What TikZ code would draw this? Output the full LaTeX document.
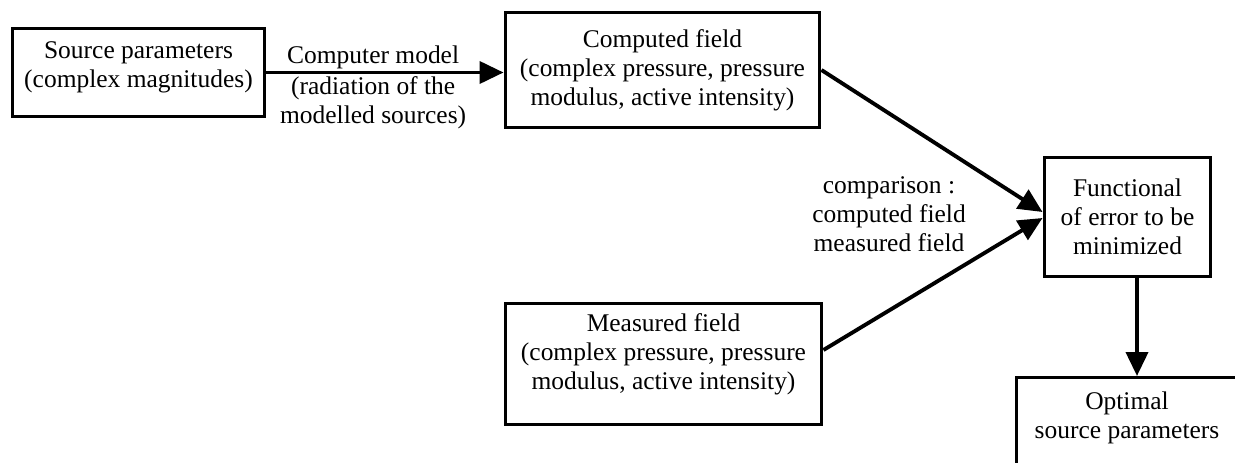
\documentclass[tikz,border=0pt]{standalone}
\usepackage{fontspec}
\setmainfont{Liberation Serif}
\usepackage{tikz}
\usetikzlibrary{arrows.meta}
\usetikzlibrary{positioning}
\usetikzlibrary{calc}

\begin{document}
\begin{tikzpicture}[x=0.02cm, y=-0.02cm,
  font=\fontsize{14.5}{16.5}\selectfont,
  block/.style={draw, line width=1.7pt, align=center, inner sep=2pt},
  flow/.style={line width=2.2pt, -{Triangle[length=4.8mm,width=4.4mm]}},
  caption/.style={align=center, inner sep=1pt}]
  \path[use as bounding box, clip] (0,0) rectangle (1235,463);
  \node[block, minimum width=5.06cm, minimum height=1.78cm, text depth=0.3cm] (src) at (138.5,72.5) {Source parameters\\(complex magnitudes)};
  \node[block, minimum width=6.3cm, minimum height=2.32cm] (comp) at (662.5,70) {Computed field\\(complex pressure, pressure\\modulus, active intensity)};
  \node[block, minimum width=6.34cm, minimum height=2.44cm, text depth=0.5cm] (meas) at (663.5,364) {Measured field\\(complex pressure, pressure\\modulus, active intensity)};
  \node[block, minimum width=3.34cm, minimum height=2.4cm] (func) at (1127.5,217) {Functional\\of error to be\\minimized};
  \node[block, anchor=north, minimum width=4.44cm, inner ysep=0.28cm, text depth=1.3cm] (opt) at (1127,376) {Optimal\\source parameters};
  \node[caption] (cmp) at (889,214) {comparison :\\computed field\\measured field};
  \draw[flow] (src.east) -- node[caption, above, pos=0.45] {Computer model} node[caption, below, pos=0.45] {(radiation of the\\modelled sources)} (src.east -| comp.west);
  \draw[flow] (comp.east) -- ([yshift=0.1cm]func.west);
  \draw[flow] ([yshift=0.28cm]meas.east) -- ([yshift=-0.02cm]func.west);
  \draw[flow] ([xshift=0.19cm]func.south) -- ([xshift=0.19cm]func.south |- opt.north);
\end{tikzpicture}
\end{document}
